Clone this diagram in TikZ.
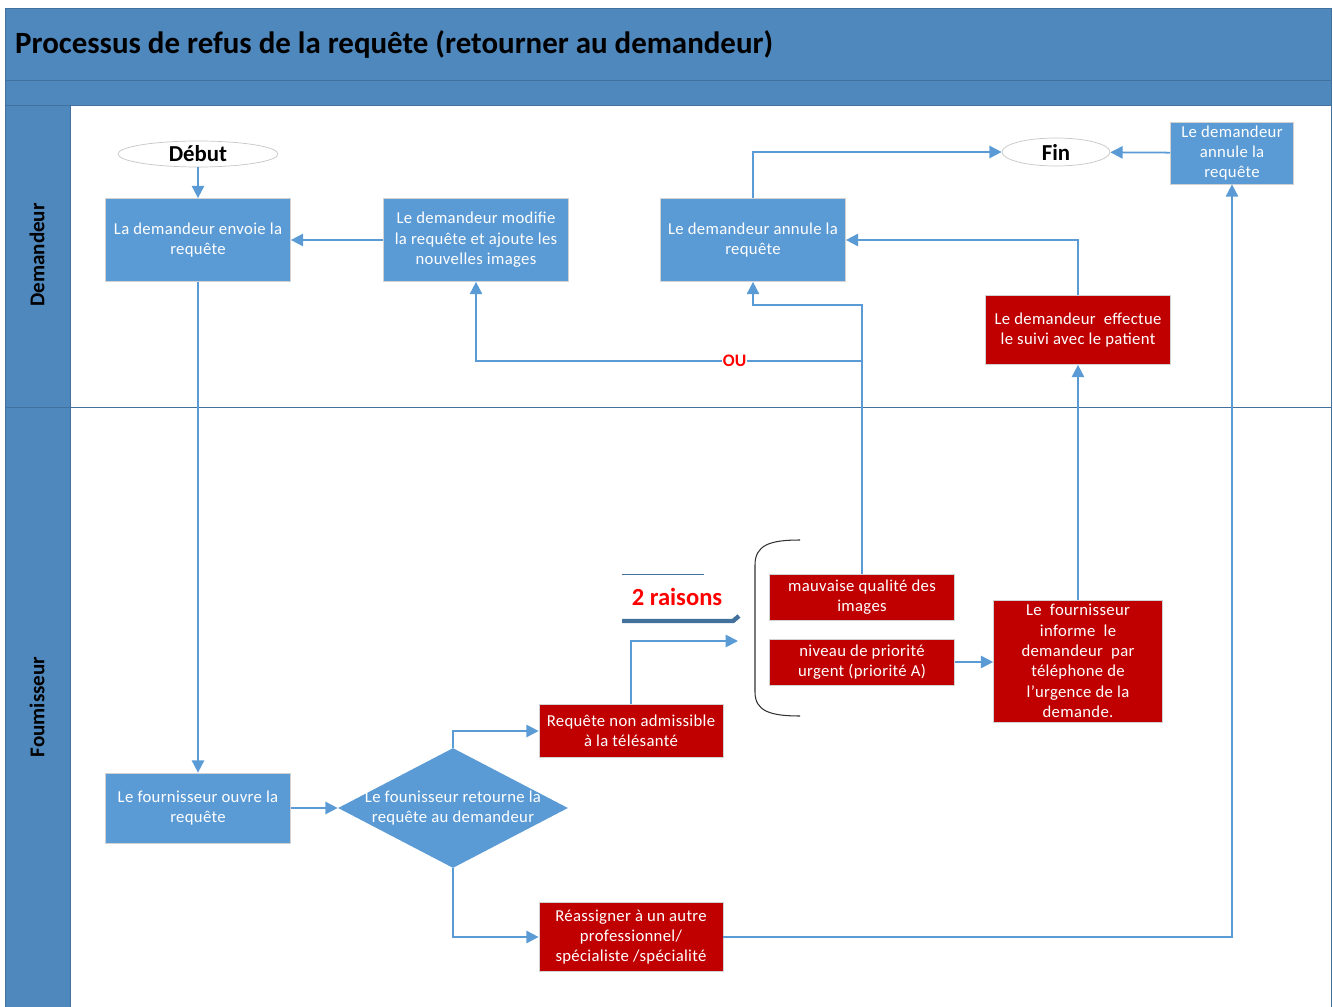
\documentclass[tikz,border=0pt]{standalone}
\usepackage{fontspec}
\setmainfont{Carlito}
\usetikzlibrary{positioning, shapes.geometric, arrows.meta}
\definecolor{lanehead}{RGB}{79,136,189}
\definecolor{laneedge}{RGB}{65,113,156}
\definecolor{boxblue}{RGB}{91,155,213}
\definecolor{boxred}{RGB}{192,0,0}
\definecolor{lineblue}{RGB}{91,155,213}
\tikzset{bluebox/.style={rectangle, fill=boxblue, draw=gray!35, text=white, align=center, inner sep=1pt, font=\fontsize{9.5}{11.6}\selectfont\addfontfeatures{LetterSpace=2}},
    redbox/.style={bluebox, fill=boxred},
    startend/.style={ellipse, fill=white, draw=gray!45, inner sep=0pt, font=\bfseries\fontsize{13}{14}\selectfont},
    flow/.style={draw=lineblue, line width=1pt, -{Triangle[length=7pt,width=7pt]}},
    lanelabel/.style={rotate=90, font=\bfseries\fontsize{12}{14}\selectfont}}

\begin{document}
\begin{tikzpicture}[x=0.02cm,y=-0.02cm]
\useasboundingbox (0,0) rectangle (1333,1007);
\fill[lanehead] (5,8) rectangle (1331,105);
\fill[lanehead] (5,105) rectangle (70,1007);
\draw[laneedge] (5,8) -- (1331,8) -- (1331,1007);
\draw[laneedge] (5,8) -- (5,1007);
\draw[laneedge] (5,80) -- (1331,80);
\draw[laneedge] (5,105) -- (1331,105);
\draw[laneedge] (70,105) -- (70,1007);
\draw[laneedge] (5,407) -- (1331,407);
\node[anchor=west, font=\bfseries\fontsize{17.6}{19}\selectfont] (titre) at (9,44) {Processus de refus de la requête (retourner au demandeur)};
\node[lanelabel] (lanedem) at (37,255) {Demandeur};
\node[lanelabel] (lanefour) at (37,707) {Foumisseur};
% couloir demandeur
\node[startend, minimum width=3.2cm, minimum height=0.52cm] (debut) at (198,154) {Début};
\node[bluebox, minimum width=3.7cm, minimum height=1.66cm] (envoie) at (198,240) {La demandeur envoie la\\requête};
\node[bluebox, minimum width=3.7cm, minimum height=1.66cm] (modif) at (476,240) {Le demandeur modifie\\la requête et ajoute les\\nouvelles images};
\node[bluebox, minimum width=3.7cm, minimum height=1.66cm] (annule) at (753,240) {Le demandeur annule la\\requête};
\node[startend, minimum width=2.16cm, minimum height=0.56cm] (fin) at (1056,152) {Fin};
\node[bluebox, minimum width=2.46cm, minimum height=1.24cm] (annuleb) at (1232,153) {Le demandeur\\annule la\\requête};
\node[redbox, minimum width=3.7cm, minimum height=1.38cm] (suivi) at (1078,330) {Le demandeur~ effectue\\le suivi avec le patient};
% couloir fournisseur
\node[redbox, minimum width=3.7cm, minimum height=0.92cm] (qualite) at (862,597) {mauvaise qualité des\\images};
\node[redbox, minimum width=3.7cm, minimum height=0.92cm] (urgent) at (862,662) {niveau de priorité\\urgent (priorité A)};
\node[redbox, minimum width=3.38cm, minimum height=2.44cm] (informe) at (1078,661) {Le~ fournisseur\\informe~ le\\demandeur~ par\\téléphone de\\l’urgence de la\\demande.};
\node[redbox, minimum width=3.68cm, minimum height=1.06cm] (nonadm) at (631,731) {Requête non admissible\\à la télésanté};
\node[redbox, minimum width=3.68cm, minimum height=1.38cm] (reass) at (631,937) {Réassigner à un autre\\professionnel/\\spécialiste /spécialité};
\node[bluebox, minimum width=3.7cm, minimum height=1.4cm] (ouvre) at (198,808) {Le fournisseur ouvre la\\requête};
\node[diamond, fill=boxblue, minimum width=4.6cm, minimum height=2.4cm, inner sep=0pt,
      label={[text=white, align=center, font=\fontsize{9.5}{11.6}\selectfont\addfontfeatures{LetterSpace=2}]center:Le founisseur retourne la\\requête au demandeur}] (dec) at (453,808) {};
\node[text=red, font=\bfseries\fontsize{14}{16}\selectfont] (raisons) at (677,597) {2 raisons};
\draw[laneedge] (622,574) -- (704,574);
\draw[laneedge, line width=2.5pt] (622,621) -- (733,621) -- (739,616);
\draw[black!80, line width=0.6pt] (800,540) .. controls (770,540) and (755,545) .. (755,565) -- (755,692) .. controls (755,711) and (770,716) .. (800,716);
\coordinate (accolade) at (738,641);
\coordinate (coude) at (862,305);
\coordinate (ouj) at (862,361);
% connecteurs
\draw[flow] (debut) -- (envoie);
\draw[flow] (modif) -- (envoie);
\draw[flow] (envoie) -- (ouvre);
\draw[flow] (ouvre) -- (dec);
\draw[flow] (dec.north) |- (nonadm);
\draw[flow] (dec.south) |- (reass);
\draw[flow] (nonadm.north) |- (accolade);
\draw[flow] (qualite.north) -- (coude) -| (annule.south);
\draw[flow] (ouj) -| node[pos=0.165, text=red, fill=white, inner sep=0.5pt, font=\bfseries\fontsize{10}{12}\selectfont]{OU} (modif.south);
\draw[flow] (urgent.east) -- (urgent.east -| informe.west);
\draw[flow] (informe) -- (suivi);
\draw[flow] (suivi.north) |- (annule);
\draw[flow] (annule.north) |- (fin);
\draw[flow] (annuleb) -- (fin);
\draw[flow] (reass) -| (annuleb.south);
\end{tikzpicture}
\end{document}
